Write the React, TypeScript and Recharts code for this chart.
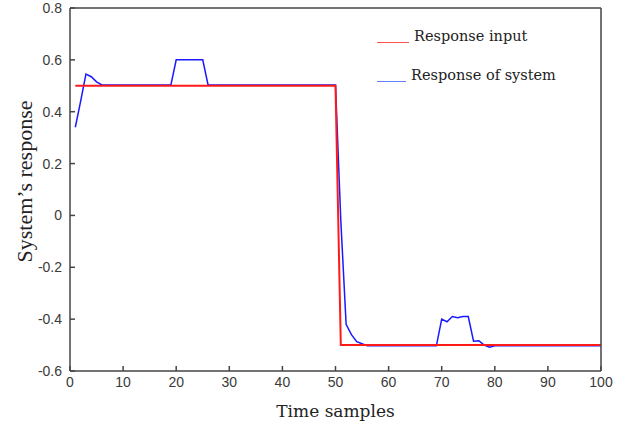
import { LineChart, Line, XAxis, YAxis } from "recharts";

// system response, one value per time sample (samples 1..100)
const responseValues = [
  0.34, 0.44, 0.545, 0.535, 0.515, 0.503, 0.503, 0.503, 0.503, 0.503,
  0.503, 0.503, 0.503, 0.503, 0.503, 0.503, 0.503, 0.503, 0.503, 0.6,
  0.6, 0.6, 0.6, 0.6, 0.6, 0.503, 0.503, 0.503, 0.503, 0.503,
  0.503, 0.503, 0.503, 0.503, 0.503, 0.503, 0.503, 0.503, 0.503, 0.503,
  0.503, 0.503, 0.503, 0.503, 0.503, 0.503, 0.503, 0.503, 0.503, 0.503,
  -0.02, -0.42, -0.46, -0.487, -0.495, -0.503, -0.503, -0.503, -0.503, -0.503,
  -0.503, -0.503, -0.503, -0.503, -0.503, -0.503, -0.503, -0.503, -0.503, -0.4,
  -0.41, -0.39, -0.395, -0.39, -0.39, -0.485, -0.483, -0.5, -0.508, -0.503,
  -0.503, -0.503, -0.503, -0.503, -0.503, -0.503, -0.503, -0.503, -0.503, -0.503,
  -0.503, -0.503, -0.503, -0.503, -0.503, -0.503, -0.503, -0.503, -0.503, -0.503,
];

// reference (input) step
const inputSamples = [1, 50, 51, 100];
const inputValues = [0.5, 0.5, -0.5, -0.5];

const xTicks = [0, 10, 20, 30, 40, 50, 60, 70, 80, 90, 100];
const yTicks = [-0.6, -0.4, -0.2, 0, 0.2, 0.4, 0.6, 0.8];

const responseData = responseValues.map((v, i) => ({ t: i + 1, y: v }));
const inputData = inputSamples.map((t, i) => ({ t, y: inputValues[i] }));

const axisColor = "#444";
const tickFont = { fontSize: 14, fill: "#3a3a3a", fontFamily: "'Liberation Sans', Arial, sans-serif" };
const serif = "'Liberation Serif', 'Times New Roman', serif";
const wideSerif = "'DejaVu Serif', serif";

function fmtY(v: number) {
  const r = Math.round(v * 10) / 10;
  return r === 0 ? "0" : String(r);
}

const legendItems = [
  { label: "Response input", color: "#ff5050", top: 28, lineW: 32 },
  { label: "Response of system", color: "#6080ff", top: 67, lineW: 29 },
];

function LegendBox() {
  return (
    <>
      {legendItems.map((it) => (
        <div
          key={it.label}
          style={{
            position: "absolute",
            left: 377,
            top: it.top,
            display: "flex",
            alignItems: "flex-end",
            fontFamily: wideSerif,
            fontSize: 14.5,
            color: "#222",
            whiteSpace: "nowrap",
          }}
        >
          <div style={{ width: it.lineW, height: 0, borderTop: `1.5px solid ${it.color}`, marginRight: 5, marginBottom: 1 }} />
          <span>{it.label}</span>
        </div>
      ))}
    </>
  );
}

function YTitle(props: any) {
  const vb = props.viewBox || { x: 0, y: 0, width: 70, height: 360 };
  const x = vb.x + 24;
  const y = vb.y + vb.height / 2 - 8;
  return (
    <text
      x={x}
      y={y}
      transform={`rotate(-90 ${x} ${y})`}
      textAnchor="middle"
      dominantBaseline="central"
      fontFamily={serif}
      fontSize={22}
      fill="#222"
    >
      System’s response
    </text>
  );
}

export default function App() {
  return (
    <div style={{ position: "absolute", left: 0, top: 0, width: 642, height: 425, background: "#fff" }}>
      <LineChart width={642} height={425} margin={{ top: 7, right: 40, left: 0, bottom: 0 }}>
        <XAxis
          dataKey="t"
          type="number"
          domain={[0, 100]}
          ticks={xTicks}
          interval={0}
          height={54}
          tickSize={-5}
          tickMargin={11}
          tick={tickFont}
          stroke={axisColor}
          strokeWidth={1.5}
          label={{
            value: "Time samples",
            position: "insideBottom",
            offset: 8,
            style: { fontFamily: wideSerif, fontSize: 17, fill: "#222" },
          }}
        />
        <XAxis
          xAxisId="top"
          dataKey="t"
          orientation="top"
          type="number"
          domain={[0, 100]}
          ticks={xTicks}
          interval={0}
          height={1}
          tickSize={-5}
          tick={false}
          stroke={axisColor}
          strokeWidth={1.5}
        />
        <YAxis
          type="number"
          domain={[-0.6, 0.8]}
          ticks={yTicks}
          interval={0}
          width={70}
          tickSize={-5}
          tickMargin={13}
          tickFormatter={fmtY}
          tick={tickFont}
          stroke={axisColor}
          strokeWidth={1.5}
          label={{ content: <YTitle /> }}
        />
        <YAxis
          yAxisId="right"
          orientation="right"
          type="number"
          domain={[-0.6, 0.8]}
          ticks={yTicks}
          interval={0}
          width={1}
          tickSize={-5}
          tick={false}
          stroke={axisColor}
          strokeWidth={1.5}
        />
        <Line
          data={responseData}
          dataKey="y"
          type="linear"
          stroke="#1a1aff"
          strokeWidth={1.5}
          dot={false}
          isAnimationActive={false}
        />
        <Line
          data={inputData}
          xAxisId="top"
          yAxisId="right"
          dataKey="y"
          type="linear"
          stroke="#ff1a1a"
          strokeWidth={2}
          dot={false}
          isAnimationActive={false}
        />
      </LineChart>
      <LegendBox />
    </div>
  );
}
